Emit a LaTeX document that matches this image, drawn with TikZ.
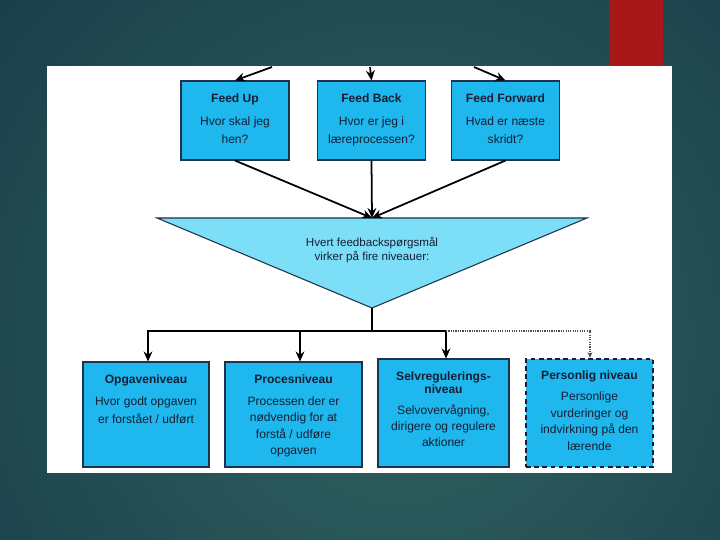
\documentclass[tikz,border=0pt]{standalone}
\usepackage{fontspec}
\setmainfont{Liberation Sans}
\usetikzlibrary{positioning,arrows.meta}
\definecolor{boxblue}{RGB}{30,184,238}
\definecolor{triblue}{RGB}{125,222,248}
\definecolor{edge}{RGB}{30,50,75}
\definecolor{ink}{RGB}{22,30,52}
\definecolor{bgin}{RGB}{50,100,98}
\definecolor{bgout}{RGB}{15,46,62}
\definecolor{barred}{RGB}{168,24,24}
\begin{document}
\begin{tikzpicture}[x=0.03cm, y=-0.03cm,
  every node/.style={font=\fontsize{10.3}{14}\selectfont, text=ink},
  fbox/.style={draw=edge, line width=0.9pt, fill=boxblue, minimum width=3.24cm, minimum height=2.37cm},
  lbox/.style={draw=edge, line width=0.9pt, fill=boxblue, minimum height=3.15cm},
  txt/.style={align=center, inner sep=0pt, outer sep=0pt},
  arr/.style={-{Stealth[length=8.5pt,width=7.5pt]}, line width=1.5pt, black}]
  \useasboundingbox (0,0) rectangle (720,540);
  % Background
  \fill[bgout] (0,0) rectangle (720,540);
  \begin{scope}
    \clip (0,0) rectangle (720,540);
    \shade[inner color=bgin, outer color=bgout] (400,340) circle (760);
  \end{scope}
  \fill[barred] (609,0) rectangle (663,66);
  \fill[white] (47,66) rectangle (672,473);
  % Questions
  \foreach \n/\x/\ti/\la/\lb in {up/235/Feed Up/Hvor skal jeg/hen?,
      back/371.5/Feed Back/Hvor er jeg i/læreprocessen?,
      fwd/505.5/Feed Forward/Hvad er næste/skridt?} {
    \node[fbox] (\n) at (\x,120.5) {};
    \node[txt, below=0.39cm of \n.north] (\n-t) {\textbf{\ti}\\[6pt]\la\\[1pt]\lb};
  }
  \coordinate (c1) at (272,67);
  \coordinate (c2) at (370,67);
  \coordinate (c3) at (474,67);
  \draw[arr] (c1) -- (up.north);
  \draw[arr] (c2) -- (back.north);
  \draw[arr] (c3) -- (fwd.north);
  % Triangle
  \coordinate (tl) at (157,218);
  \coordinate (tr) at (587,218);
  \coordinate (tip) at (372,308);
  \coordinate (top) at (372,218);
  \filldraw[fill=triblue, draw=edge, line width=0.9pt] (tl) -- (tr) -- (tip) -- cycle;
  \node[txt, font=\fontsize{9.9}{12}\selectfont] (ask) at (372,250) {Hvert feedbackspørgsmål\\virker på fire niveauer:};
  \draw[arr] (up.south) -- (top);
  \draw[arr] (back.south) -- (top);
  \draw[arr] (fwd.south) -- (top);
  % Levels
  \node[lbox, minimum width=3.78cm] (task) at (146,414.5) {};
  \node[lbox, minimum width=4.11cm] (proc) at (293.5,414.5) {};
  \node[lbox, minimum width=3.93cm, minimum height=3.24cm] (self) at (443.5,413) {};
  \node[lbox, minimum width=3.81cm, minimum height=3.24cm, draw=ink, line width=1.7pt, dash pattern=on 4pt off 3pt] (pers) at (589.5,413) {};
  \node[txt, below=0.39cm of task.north] (task-t) {\textbf{Opgaveniveau}\\[5pt]Hvor godt opgaven\\[1pt]er forstået / udført};
  \node[txt, below=0.39cm of proc.north] (proc-t) {\textbf{Procesniveau}\\[5pt]Processen der er\\nødvendig for at\\forstå / udføre\\opgaven};
  \node[txt, below=0.39cm of self.north] (self-t) {\textbf{Selvregulerings-}\\[-3pt]\textbf{niveau}\\[4pt]Selvovervågning,\\dirigere og regulere\\aktioner};
  \node[txt, below=0.39cm of pers.north] (pers-t) {\textbf{Personlig niveau}\\[4pt]Personlige\\vurderinger og\\indvirkning på den\\lærende};
  % Branches
  \coordinate (bus) at (372,331);
  \coordinate (b2) at (300,331);
  \coordinate (b3) at (446,331);
  \coordinate (b4) at (590,331);
  \draw[line width=1.5pt] (tip) -- (bus);
  \draw[arr] (bus) -| ([xshift=0.06cm]task.north);
  \draw[arr] (bus) -| (b3 |- self.north);
  \draw[arr] (b2) -- (b2 |- proc.north);
  \draw[densely dotted, line width=1pt, black!70, -{Stealth[length=5pt,width=4pt]}] (b3) -- (b4) -- (b4 |- pers.north);
\end{tikzpicture}
\end{document}
